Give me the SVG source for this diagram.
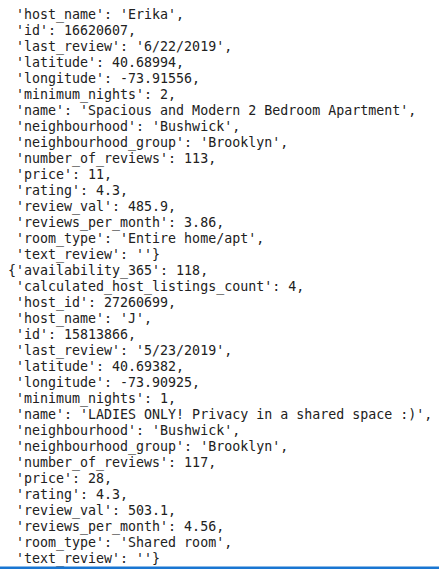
<svg xmlns="http://www.w3.org/2000/svg" width="439" height="569" viewBox="0 0 439 569">
<style>
text{font-family:"DejaVu Sans Mono","Liberation Mono",monospace;font-size:13.3px;fill:#212121;white-space:pre}
</style>
<rect width="439" height="569" fill="#ffffff"/>
<g id="output" xml:space="preserve">
<text x="8" y="18.7"> 'host_name': 'Erika',</text>
<text x="8" y="34.7"> 'id': 16620607,</text>
<text x="8" y="50.7"> 'last_review': '6/22/2019',</text>
<text x="8" y="66.7"> 'latitude': 40.68994,</text>
<text x="8" y="82.7"> 'longitude': -73.91556,</text>
<text x="8" y="98.7"> 'minimum_nights': 2,</text>
<text x="8" y="114.7"> 'name': 'Spacious and Modern 2 Bedroom Apartment',</text>
<text x="8" y="130.7"> 'neighbourhood': 'Bushwick',</text>
<text x="8" y="146.7"> 'neighbourhood_group': 'Brooklyn',</text>
<text x="8" y="162.7"> 'number_of_reviews': 113,</text>
<text x="8" y="178.7"> 'price': 11,</text>
<text x="8" y="194.7"> 'rating': 4.3,</text>
<text x="8" y="210.7"> 'review_val': 485.9,</text>
<text x="8" y="226.7"> 'reviews_per_month': 3.86,</text>
<text x="8" y="242.7"> 'room_type': 'Entire home/apt',</text>
<text x="8" y="258.7"> 'text_review': ''}</text>
<text x="8" y="274.7">{'availability_365': 118,</text>
<text x="8" y="290.7"> 'calculated_host_listings_count': 4,</text>
<text x="8" y="306.7"> 'host_id': 27260699,</text>
<text x="8" y="322.7"> 'host_name': 'J',</text>
<text x="8" y="338.7"> 'id': 15813866,</text>
<text x="8" y="354.7"> 'last_review': '5/23/2019',</text>
<text x="8" y="370.7"> 'latitude': 40.69382,</text>
<text x="8" y="386.7"> 'longitude': -73.90925,</text>
<text x="8" y="402.7"> 'minimum_nights': 1,</text>
<text x="8" y="418.7"> 'name': 'LADIES ONLY! Privacy in a shared space :)',</text>
<text x="8" y="434.7"> 'neighbourhood': 'Bushwick',</text>
<text x="8" y="450.7"> 'neighbourhood_group': 'Brooklyn',</text>
<text x="8" y="466.7"> 'number_of_reviews': 117,</text>
<text x="8" y="482.7"> 'price': 28,</text>
<text x="8" y="498.7"> 'rating': 4.3,</text>
<text x="8" y="514.7"> 'review_val': 503.1,</text>
<text x="8" y="530.7"> 'reviews_per_month': 4.56,</text>
<text x="8" y="546.7"> 'room_type': 'Shared room',</text>
<text x="8" y="562.7"> 'text_review': ''}</text>
</g>
<rect x="0" y="566.5" width="439" height="2.5" fill="#1976d2"/>
</svg>
